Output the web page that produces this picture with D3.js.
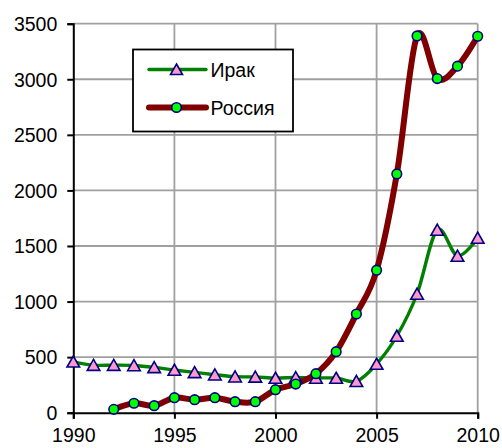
<!DOCTYPE html>
<html><head><meta charset="utf-8">
<script src="https://cdn.jsdelivr.net/npm/d3@7"></script>
<style>body{margin:0;background:#fff}svg{display:block}text{font-family:"Liberation Sans",Arial,sans-serif}</style>
</head><body>
<script>
const iraqYears = d3.range(1990, 2011);
const iraqValues = [458,428,428,425,408,384,363,342,324,322,312,318,312,312,283,438,690,1068,1644,1410,1572];
const russiaYears = d3.range(1992, 2011);
const russiaValues = [30,85,63,135,117,135,99,99,207,258,351,549,888,1282,2148,3390,3006,3118,3387];
const yTicks = [0,500,1000,1500,2000,2500,3000,3500];
const xTicks = [1990,1995,2000,2005,2010];
const seriesNames = ["Ирак","Россия"];

const W=502,H=448;
const svg=d3.select("body").append("svg").attr("width",W).attr("height",H);
const x=d3.scaleLinear().domain([1990,2010]).range([73.3,477.7]);
const y=d3.scaleLinear().domain([0,3500]).range([412.7,23.7]);
const grid="#a0a0a0";

// grid
svg.append("g").selectAll("line").data(yTicks.slice(1)).join("line")
 .attr("x1",x(1990)).attr("x2",x(2010)).attr("y1",d=>y(d)).attr("y2",d=>y(d))
 .attr("stroke",grid).attr("stroke-width",1.8);
svg.append("g").selectAll("line").data(xTicks.slice(1)).join("line")
 .attr("x1",d=>x(d)).attr("x2",d=>x(d)).attr("y1",y(0)).attr("y2",y(3500))
 .attr("stroke",grid).attr("stroke-width",1.8);

// axes
const yAxis=svg.append("g").attr("transform",`translate(${x(1990)},0)`)
 .call(d3.axisLeft(y).tickValues(yTicks).tickSize(6).tickPadding(10).tickFormat(d3.format("d")));
const xAxis=svg.append("g").attr("transform",`translate(0,${y(0)})`)
 .call(d3.axisBottom(x).tickValues(xTicks).tickSize(6).tickPadding(8).tickFormat(d3.format("d")));
[yAxis,xAxis].forEach(a=>{
 a.select(".domain").attr("stroke","#000").attr("stroke-width",2);
 a.selectAll(".tick line").attr("stroke","#000").attr("stroke-width",2);
 a.selectAll("text").attr("font-size",19.5).attr("fill","#000").attr("font-family","Liberation Sans, Arial, sans-serif");
});
yAxis.selectAll("text").attr("dy","0.35em");
xAxis.selectAll("text").attr("dy","0.78em");

const line=d3.line().x(d=>x(d[0])).y(d=>y(d[1])).curve(d3.curveCardinal.tension(0));
const iraq=iraqYears.map((d,i)=>[d,iraqValues[i]]);
const russia=russiaYears.map((d,i)=>[d,russiaValues[i]]);

svg.append("path").attr("d",line(iraq)).attr("fill","none").attr("stroke","#008000").attr("stroke-width",3.4);
svg.append("path").attr("d",line(russia)).attr("fill","none").attr("stroke","#800000").attr("stroke-width",6);

function tri(s){return `M0,${-s*0.55}L${s*0.6},${s*0.5}L${-s*0.6},${s*0.5}Z`;}
svg.append("g").selectAll("path").data(iraq).join("path")
 .attr("transform",d=>`translate(${x(d[0])},${y(d[1])})`).attr("d",tri(10.5))
 .attr("fill","#ff99cc").attr("stroke","#000080").attr("stroke-width",1.6);
svg.append("g").selectAll("circle").data(russia).join("circle")
 .attr("cx",d=>x(d[0])).attr("cy",d=>y(d[1])).attr("r",4.8)
 .attr("fill","#00ff00").attr("stroke","#000080").attr("stroke-width",1.6);

// legend
const lg=svg.append("g");
lg.append("rect").attr("x",133).attr("y",49.5).attr("width",160).attr("height",82)
 .attr("fill","#fff").attr("stroke","#000").attr("stroke-width",1.8);
const ly=[69.5,107.5];
lg.append("line").attr("x1",149).attr("x2",206).attr("y1",ly[0]).attr("y2",ly[0]).attr("stroke","#008000").attr("stroke-width",3.4).attr("stroke-linecap","round");
lg.append("path").attr("transform",`translate(176.5,${ly[0]})`).attr("d",tri(10)).attr("fill","#ff99cc").attr("stroke","#000080").attr("stroke-width",1.6);
lg.append("line").attr("x1",149).attr("x2",206).attr("y1",ly[1]).attr("y2",ly[1]).attr("stroke","#800000").attr("stroke-width",6).attr("stroke-linecap","round");
lg.append("circle").attr("cx",176.5).attr("cy",ly[1]).attr("r",4.8).attr("fill","#00ff00").attr("stroke","#000080").attr("stroke-width",1.6);
lg.selectAll("text").data(seriesNames).join("text")
 .attr("x",210.5).attr("y",(d,i)=>ly[i]+7.5).attr("font-size",19.5).attr("fill","#000").text(d=>d);
</script>
</body></html>
